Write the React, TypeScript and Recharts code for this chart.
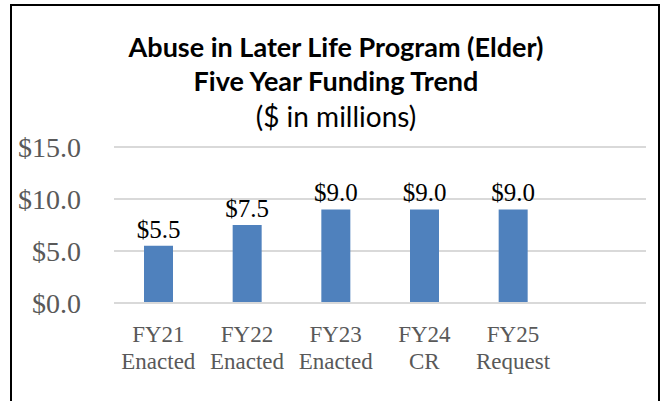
import { BarChart, Bar, XAxis, YAxis, CartesianGrid, LabelList } from "recharts";

const categories = ["FY21|Enacted", "FY22|Enacted", "FY23|Enacted", "FY24|CR", "FY25|Request", ""];
const funding: (number | null)[] = [5.5, 7.5, 9.0, 9.0, 9.0, null];
const yTicks = [0, 5, 10, 15];

const data = categories.map((c, i) => ({ name: c, value: funding[i] }));

const serif = "'Liberation Serif', 'Times New Roman', serif";

const money = (v: number) => `$${v.toFixed(1)}`;

function CategoryTick(props: any) {
  const { x, y, payload } = props;
  const [a, b] = String(payload.value).split("|");
  return (
    <text x={x} y={y} textAnchor="middle" fill="#595959" fontFamily={serif} fontSize={23}>
      <tspan x={x} dy={31}>{a}</tspan>
      <tspan x={x} dy={27}>{b}</tspan>
    </text>
  );
}

export default function App() {
  return (
    <div style={{ position: "absolute", left: 0, top: 0, width: 664, height: 401, background: "#fff", overflow: "hidden" }}>
      {/* chart frame */}
      <div
        style={{
          position: "absolute",
          left: 10,
          top: 4,
          width: 646,
          height: 420,
          border: "2px solid #000",
        }}
      />
      <div
        style={{
          position: "absolute",
          left: 12,
          width: 648,
          top: 30,
          textAlign: "center",
          fontFamily: "Lato, 'Open Sans', sans-serif",
          color: "#000",
        }}
      >
        <div style={{ fontWeight: 700, fontSize: 27, lineHeight: "34px" }}>Abuse in Later Life Program (Elder)</div>
        <div style={{ fontWeight: 700, fontSize: 27, lineHeight: "34px" }}>Five Year Funding Trend</div>
        <div style={{ fontWeight: 400, fontSize: 28, lineHeight: "36px" }}>($ in millions)</div>
      </div>
      <div style={{ position: "absolute", left: 0, top: 0 }}>
        <BarChart
          width={664}
          height={401}
          data={data}
          margin={{ top: 147, right: 18, bottom: 0, left: 0 }}
          barCategoryGap={0}
        >
          <CartesianGrid vertical={false} stroke="#d9d9d9" strokeWidth={2} />
          <XAxis
            dataKey="name"
            axisLine={{ stroke: "#d9d9d9", strokeWidth: 2 }}
            tickLine={false}
            tick={<CategoryTick />}
            interval={0}
            height={98}
          />
          <YAxis
            width={114}
            domain={[0, 15]}
            ticks={yTicks}
            axisLine={false}
            tickLine={false}
            tickSize={0}
            tickMargin={33}
            tickFormatter={money}
            tick={{ fill: "#595959", fontFamily: serif, fontSize: 28 }}
          />
          <Bar dataKey="value" fill="#4f81bd" barSize={29} isAnimationActive={false}>
            <LabelList
              dataKey="value"
              position="top"
              offset={8}
              formatter={(v: any) => (v == null ? "" : money(Number(v)))}
              style={{ fill: "#000", fontFamily: serif, fontSize: 25 }}
            />
          </Bar>
        </BarChart>
      </div>
    </div>
  );
}
